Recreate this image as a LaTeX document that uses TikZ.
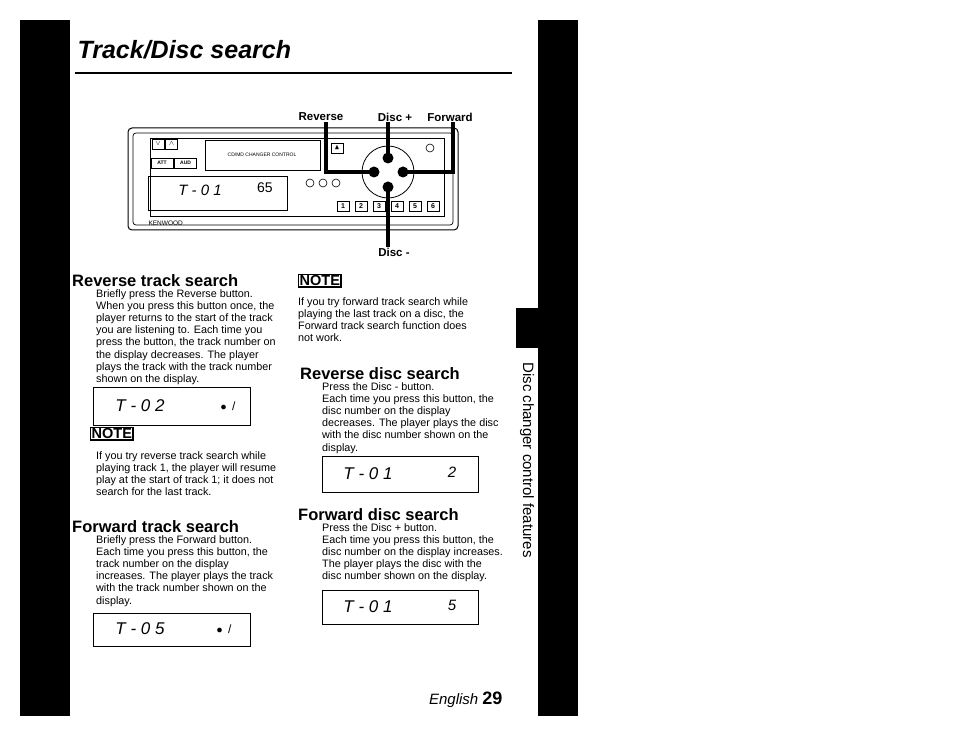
\documentclass[tikz,border=0pt]{standalone}
\usepackage{amssymb}
\usepackage{fontspec}
\setmainfont{Liberation Sans}
\usetikzlibrary{positioning}
\tikzset{
  body/.style={anchor=north west, align=left, font=\fontsize{10.8}{12.2}\selectfont, inner sep=0pt},
  head/.style={anchor=north west, font=\bfseries\fontsize{16.5}{17}\selectfont, inner sep=0pt},
  lcd/.style={draw, line width=0.8pt},
  notebox/.style={draw, line width=1.3pt, font=\bfseries\fontsize{14.5}{14.5}\selectfont, inner sep=1pt},
  key/.style={draw, line width=0.6pt, minimum width=12pt, minimum height=10pt, inner sep=0pt, font=\bfseries\fontsize{7}{7}\selectfont},
  pointer/.style={line width=3.5pt},
  btnlabel/.style={font=\bfseries\fontsize{11.5}{12}\selectfont, inner sep=1pt}
}
\begin{document}
\begin{tikzpicture}[x=1pt, y=-1pt]
        \useasboundingbox (0,0) rectangle (954,738);
        % page bars
        \fill (20,20) rectangle (70,716);
        \fill (538,20) rectangle (578,716);
        \fill (516,308) rectangle (538,348);
        \node[rotate=-90, font=\fontsize{15}{16}\selectfont] (side) at (527,460) {Disc changer control features};

        % title
        \node[anchor=west, font=\bfseries\itshape\fontsize{25}{26}\selectfont] (title) at (74,50) {Track/Disc search};
        \draw[line width=1.5pt] (75,73) -- (512,73);

        % the unit
        \draw[line width=1pt, rounded corners=4pt] (128,128) rectangle (458,230);
        \draw[line width=0.7pt, rounded corners=3pt] (133,133) rectangle (453,225);
        \draw[line width=0.6pt] (150,138) rectangle (444,216);
        \node[key] (dn) at (158,144) {$\vee$};
        \node[key, right=1pt of dn] (up) {$\wedge$};
        \node[key, minimum width=22pt] (att) at (162,163) {\tiny ATT};
        \node[key, minimum width=22pt, right=1pt of att] (aud) {\tiny AUD};
        \draw[line width=0.6pt] (205,140) rectangle (320,170);
        \node[font=\fontsize{3.5}{4}\selectfont, align=center] (cdtxt) at (262,155) {\tiny CD/MD CHANGER CONTROL};
        \node[key] (eject) at (337,148) {$\blacktriangle$};
        \draw[line width=0.6pt] (148,176) rectangle (287,210);
        \node[font=\fontsize{15}{15}\selectfont\itshape] (disp) at (200,190) {T - 0 1};
        \node[font=\fontsize{14}{14}\selectfont] (disp2) at (265,188) {65};
        \foreach \i in {0,1,2} \draw[line width=0.6pt] (310+\i*13,183) circle (4pt);
        \draw[line width=0.8pt] (388,172) circle (26);
        \fill (388,158) circle (5.5);
        \fill (388,187) circle (5.5);
        \fill (374,172) circle (5.5);
        \fill (403,172) circle (5.5);
        \draw[line width=0.6pt] (430,148) circle (4pt);
        \foreach \n in {1,...,6} \node[key] (k\n) at (325+\n*18,206) {\n};
        \node[anchor=west, font=\fontsize{6.5}{7}\selectfont] (brand) at (145,223) {KENWOOD};

        % pointer labels
        \node[btnlabel] (rev) at (321,117) {Reverse};
        \node[btnlabel] (dplus) at (395,117) {Disc +};
        \node[btnlabel] (fwd) at (450,117) {Forward};
        \node[btnlabel] (dminus) at (394,252) {Disc -};
        \draw[pointer] (rev.south -| 326,0) |- (374,172);
        \draw[pointer] (dplus.south -| 388,0) -- (388,158);
        \draw[pointer] (fwd.south -| 453,0) |- (403,172);
        \draw[pointer] (dminus.north -| 388,0) -- (388,187);

        % left column
        \node[head] (h1) at (72,274) {Reverse track search};
        \node[body] (b1) at (96,289) {Briefly press the Reverse button.\\When you press this button once, the\\player returns to the start of the track\\you are listening to.  Each time you\\press the button, the track number on\\the display decreases.  The player\\plays the track with the track number\\shown on the display.};
        \draw[lcd] (93,387) rectangle (250,425);
        \node[font=\fontsize{17}{17}\selectfont\itshape] (l1) at (140,406) {T - 0 2};
        \node[font=\fontsize{12}{12}\selectfont] (l1d) at (228,406) {$\bullet$\, /};
        \node[notebox, anchor=north west] (n1) at (90,427) {NOTE};
        \node[body] (b2) at (96,451) {If you try reverse track search while\\playing track 1, the player will resume\\play at the start of track 1; it does not\\search for the last track.};
        \node[head] (h2) at (72,520) {Forward track search};
        \node[body] (b3) at (96,535) {Briefly press the Forward button.\\Each time you press this button, the\\track number on the display\\increases. The player plays the track\\with the track number shown on the\\display.};
        \draw[lcd] (93,613) rectangle (250,646);
        \node[font=\fontsize{17}{17}\selectfont\itshape] (l2) at (140,629) {T - 0 5};
        \node[font=\fontsize{12}{12}\selectfont] (l2d) at (224,629) {$\bullet$\, /};

        % right column
        \node[notebox, anchor=north west] (n2) at (298,274) {NOTE};
        \node[body] (b4) at (298,297) {If you try forward track search while\\playing the last track on a disc, the\\Forward track search function does\\not work.};
        \node[head] (h3) at (300,367) {Reverse disc search};
        \node[body] (b5) at (322,382) {Press the Disc - button.\\Each time you press this button, the\\disc number on the display\\decreases.  The player plays the disc\\with the disc number shown on the\\display.};
        \draw[lcd] (322,456) rectangle (478,492);
        \node[font=\fontsize{17}{17}\selectfont\itshape] (r1) at (368,474) {T - 0 1};
        \node[font=\fontsize{15}{15}\selectfont\itshape] (r1d) at (452,472) {2};
        \node[head] (h4) at (298,508) {Forward disc search};
        \node[body] (b6) at (322,523) {Press the Disc + button.\\Each time you press this button, the\\disc number on the display increases.\\The player plays the disc with the\\disc number shown on the display.};
        \draw[lcd] (322,590) rectangle (478,624);
        \node[font=\fontsize{17}{17}\selectfont\itshape] (r2) at (368,607) {T - 0 1};
        \node[font=\fontsize{15}{15}\selectfont\itshape] (r2d) at (452,605) {5};

        % footer
        \node[anchor=east, font=\fontsize{15}{16}\selectfont] (foot) at (506,700) {\textit{English} \textbf{\fontsize{18}{18}\selectfont 29}};
\end{tikzpicture}
\end{document}
